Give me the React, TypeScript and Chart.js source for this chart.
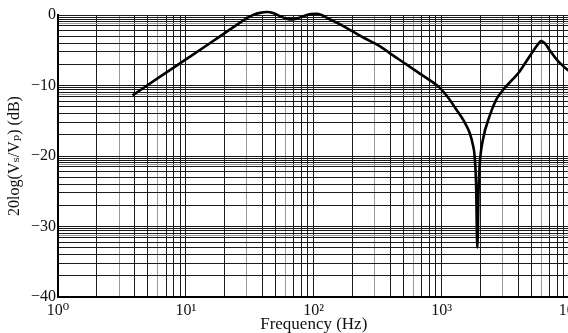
import { useEffect, useRef } from 'react';
import { Chart, registerables } from 'chart.js';

Chart.register(...registerables);

// ---- data ----
const freqHz = [
  3.83, 6, 10, 15, 20, 25, 30, 34, 38, 43, 48, 55, 62, 68, 75, 85, 95, 105, 115, 125, 133,
  160, 200, 250, 328, 392, 500, 650, 800, 964, 1100, 1303, 1500, 1655, 1750, 1811, 1860,
  1901, 1945, 1982, 2103, 2371, 2672, 3000, 3606, 4000, 4590, 5200, 5700, 6010, 6400,
  7000, 8000, 9000, 10000,
];
const gainDb = [
  -11.4, -9.0, -6.3, -4.15, -2.6, -1.4, -0.45, 0.05, 0.3, 0.42, 0.3, -0.2, -0.55, -0.62,
  -0.45, -0.1, 0.12, 0.18, 0.0, -0.35, -0.6, -1.3, -2.3, -3.3, -4.4, -5.4, -6.7, -8.1,
  -9.2, -10.3, -11.5, -13.4, -15.1, -16.7, -18.3, -20.0, -24.0, -33.0, -25.0, -21.4,
  -17.7, -14.35, -12.0, -10.7, -9.1, -8.2, -6.6, -5.1, -4.1, -3.7, -4.0, -5.0, -6.4,
  -7.3, -8.0,
];

const xDecades = [1, 10, 100, 1000];
const xMultipliers = [1, 2, 3, 4, 5, 6, 7, 8, 9];
const xMin = 1;
const xMax = 10000;
const xTickLabels: Record<number, string> = {
  1: '10⁰',
  10: '10¹',
  100: '10²',
  1000: '10³',
  10000: '10⁴',
};
const xGreyMultipliers = [3, 6];

const yMajor = [0, -10, -20, -30, -40];
const yTickLabels = ['0', '−10', '−20', '−30', '−40'];
const yMinorFactors = [9.3, 8.7, 8, 7.5, 7, 6, 5, 4, 3, 2];
const yGreyFactors = [7.5];

const xTitle = 'Frequency (Hz)';
const yTitle = '20log(Vₛ/Vₚ) (dB)';

const FONT = "'Liberation Serif', 'DejaVu Serif', 'Times New Roman', serif";

function xTickValues(): number[] {
  const v: number[] = [];
  xDecades.forEach((d) => xMultipliers.forEach((m) => v.push(d * m)));
  v.push(xMax);
  return v;
}

function yTickValues(): { value: number; grey: boolean }[] {
  const v: { value: number; grey: boolean }[] = [];
  yMajor.forEach((t, i) => {
    v.push({ value: t, grey: false });
    if (i < yMajor.length - 1) {
      yMinorFactors.forEach((k) => {
        v.push({ value: t - 10 * (1 - Math.log10(k)), grey: yGreyFactors.includes(k) });
      });
    }
  });
  return v;
}

export default function App() {
  const ref = useRef<HTMLCanvasElement | null>(null);

  useEffect(() => {
    if (!ref.current) return;
    const yTicks = yTickValues();
    const greyY = new Set(yTicks.filter((t) => t.grey).map((t) => t.value.toFixed(6)));

    const chart = new Chart(ref.current, {
      type: 'line',
      data: {
        datasets: [
          {
            data: freqHz.map((f, i) => ({ x: f, y: gainDb[i] })),
            borderColor: '#000',
            borderWidth: 2.6,
            pointRadius: 0,
            cubicInterpolationMode: 'monotone',
            clip: false as any,
          },
        ],
      },
      options: {
        animation: false,
        responsive: false,
        devicePixelRatio: 1,
        layout: { autoPadding: false, padding: { top: 15, right: 2.5, left: 0, bottom: 0 } },
        plugins: { legend: { display: false }, tooltip: { enabled: false } },
        scales: {
          x: {
            type: 'logarithmic',
            min: xMin,
            max: xMax,
            afterBuildTicks: (s: any) => {
              s.ticks = xTickValues().map((value) => ({ value }));
            },
            afterFit: (s: any) => {
              s.height = 36;
              s.paddingLeft = 0;
              s.paddingRight = 0;
            },
            ticks: {
              autoSkip: false,
              maxRotation: 0,
              padding: 4,
              color: '#111',
              font: { family: FONT, size: 16 },
              callback: (value: any) => xTickLabels[Number(value)] ?? '',
            },
            grid: {
              drawTicks: false,
              lineWidth: 1,
              color: (ctx: any) => {
                const v = ctx.tick?.value;
                if (!v) return '#1a1a1a';
                const k = Math.round(v / Math.pow(10, Math.floor(Math.log10(v) + 1e-9)));
                return xGreyMultipliers.includes(k) ? '#9a9a9a' : '#1a1a1a';
              },
            },
            border: { display: true, color: '#000', width: 2 },
            title: {
              display: true,
              text: xTitle,
              color: '#111',
              font: { family: FONT, size: 17, lineHeight: 1 },
              padding: { top: 0, bottom: 0 },
            },
          },
          y: {
            type: 'linear',
            min: -40,
            max: 0,
            afterBuildTicks: (s: any) => {
              s.ticks = yTicks.map((t) => ({ value: t.value }));
            },
            afterFit: (s: any) => {
              s.width = 58;
              s.paddingTop = 0;
              s.paddingBottom = 0;
            },
            ticks: {
              autoSkip: false,
              padding: 2,
              color: '#111',
              font: { family: FONT, size: 16 },
              callback: (value: any) => {
                const i = yMajor.indexOf(Number(value));
                return i >= 0 ? yTickLabels[i] : '';
              },
            },
            grid: {
              drawTicks: false,
              lineWidth: 1,
              color: (ctx: any) => {
                const v = ctx.tick?.value;
                if (v === undefined) return '#1a1a1a';
                return greyY.has(Number(v).toFixed(6)) ? '#9a9a9a' : '#1a1a1a';
              },
            },
            border: { display: true, color: '#000', width: 2 },
            title: {
              display: true,
              text: yTitle,
              color: '#111',
              font: { family: FONT, size: 16, lineHeight: 1 },
              padding: { top: 7, bottom: 0 },
            },
          },
        },
      },
    } as any);

    return () => chart.destroy();
  }, []);

  return (
    <div
      style={{
        position: 'fixed',
        left: 0,
        top: 0,
        width: 568,
        height: 333,
        overflow: 'hidden',
        background: '#fff',
      }}
    >
      <canvas ref={ref} width={572} height={333} style={{ width: 572, height: 333, display: 'block' }} />
    </div>
  );
}
